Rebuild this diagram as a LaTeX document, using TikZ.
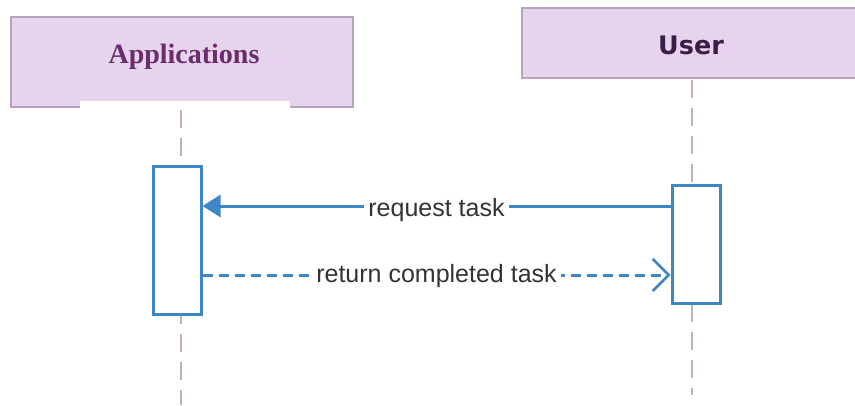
\documentclass[tikz,border=0pt]{standalone}
\usepackage{fontspec}
\setmainfont{Liberation Serif}
\setsansfont{Liberation Sans}
\newfontfamily\headsans{DejaVu Sans}
\usetikzlibrary{arrows.meta}
\definecolor{headfill}{HTML}{E6D4EC}
\definecolor{headline}{HTML}{B8A2BC}
\definecolor{lifeline}{HTML}{C4ABC6}
\definecolor{msgblue}{HTML}{3E87C6}
\definecolor{apptext}{HTML}{6A2C6C}
\definecolor{usertext}{HTML}{3A1E48}
\definecolor{labeltext}{HTML}{333333}
\tikzset{
  header/.style={draw=headline, line width=2pt, fill=headfill, inner sep=0pt},
  activation/.style={draw=msgblue, line width=3pt, fill=white, minimum width=48pt, inner sep=0pt},
  lifelinestyle/.style={draw=lifeline, line width=2pt, dash pattern=on 18pt off 10pt},
  msglabel/.style={fill=white, inner xsep=4pt, inner ysep=1pt, text=labeltext, font=\sffamily\fontsize{25}{27}\selectfont},
  request/.style={draw=msgblue, line width=3pt, -{Triangle[length=18pt,width=22pt]}},
  reply/.style={draw=msgblue, line width=3pt, dash pattern=on 10pt off 6pt, -{Straight Barb[length=16pt,width=32pt,line width=2.5pt]}}
}
\begin{document}
\begin{tikzpicture}[x=1pt,y=-1pt]
  \useasboundingbox (0,0) rectangle (855,405);
  \clip (0,0) rectangle (855,405);
  \fill[white] (0,0) rectangle (855,405);

  % participant headers
  \node[header, minimum width=342pt, minimum height=90pt] (app) at (182,62) {};
  \node[text=apptext, font=\bfseries\fontsize{28}{30}\selectfont] (apptitle) at (184,57) {Applications};
  \fill[white] (80,101) rectangle (290,110);
  \node[header, minimum width=345pt, minimum height=70pt] (user) at (694,43) {};
  \node[text=usertext, font=\headsans\bfseries\fontsize{25.5}{27}\selectfont] (usertitle) at (691,45) {User};

  % lifelines
  \coordinate (append) at (181,405);
  \coordinate (userend) at (692,395);
  \draw[lifelinestyle] (181,110) -- (append);
  \draw[lifelinestyle] (692,80) -- (userend);

  % activation bars
  \node[activation, minimum height=148pt] (aact) at (177,240) {};
  \node[activation, minimum height=118pt] (uact) at (696,244) {};

  % messages
  \draw[request] (uact.west |- {0,206}) -- node[msglabel, yshift=-4pt] (reqlabel) {request task} (aact.east |- {0,206});
  \draw[reply] (aact.east |- {0,275}) -- node[msglabel, yshift=-1pt] (replabel) {return completed task} (uact.west |- {0,275});
\end{tikzpicture}
\end{document}
